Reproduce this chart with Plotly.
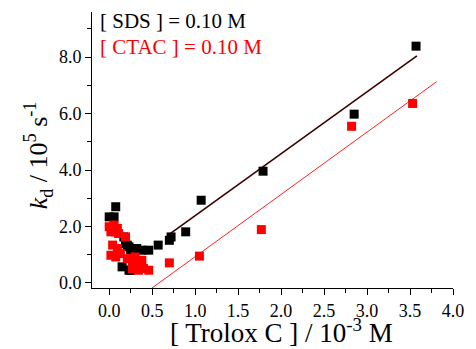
import plotly.graph_objects as go

# SDS series (black)
sds_x = [0.00, 0.057, 0.076, 0.17, 0.19, 0.21, 0.23, 0.25, 0.32, 0.38, 0.46,
         0.15, 0.23, 0.25, 0.57, 0.70, 0.72, 0.89, 1.07, 1.79, 2.85, 3.57]
sds_y = [2.34, 2.34, 2.70, 1.63, 1.40, 1.34, 1.28, 1.16, 1.22, 1.16, 1.16,
         0.57, 0.45, 0.45, 1.34, 1.51, 1.63, 1.81, 2.93, 3.96, 5.98, 8.39]

# CTAC series (red)
ctac_x = [0.00, 0.057, 0.095, 0.02, 0.076, 0.11, 0.19, 0.04, 0.095, 0.02, 0.076,
          0.13, 0.21, 0.27, 0.30, 0.36, 0.27, 0.34, 0.36, 0.38, 0.40, 0.46,
          0.70, 1.05, 1.77, 2.82, 3.53]
ctac_y = [1.99, 2.05, 1.93, 1.81, 1.81, 1.75, 1.63, 1.34, 1.22, 0.98, 0.92,
          1.04, 0.86, 0.74, 0.92, 0.80, 0.51, 0.45, 0.69, 0.80, 0.51, 0.45,
          0.71, 0.95, 1.89, 5.55, 6.36]

# linear fits (slope, intercept, x-extent)
sds_fit = {"slope": 2.195, "intercept": 0.19, "x": [0.71, 3.58]}
ctac_fit = {"slope": 2.208, "intercept": -1.28, "x": [0.49, 3.81]}

x_ticks = [0.0, 0.5, 1.0, 1.5, 2.0, 2.5, 3.0, 3.5, 4.0]
y_ticks = [0.0, 2.0, 4.0, 6.0, 8.0]

FONT = "Liberation Serif"

W, H = 476, 349
ML, MR, MT, MB = 92, 14, 12, 61
PW, PH = W - ML - MR, H - MT - MB


def px(xp):
    return (xp - ML) / PW


def py(yp):
    return (H - MB - yp) / PH


def fit_line(fit):
    xs = fit["x"]
    return xs, [fit["slope"] * v + fit["intercept"] for v in xs]


fig = go.Figure()
lx, ly = fit_line(sds_fit)
fig.add_trace(go.Scatter(x=lx, y=ly, mode="lines",
                         line=dict(color="#3a0000", width=1.6), showlegend=False))
lx, ly = fit_line(ctac_fit)
fig.add_trace(go.Scatter(x=lx, y=ly, mode="lines",
                         line=dict(color="#ff2020", width=1), showlegend=False))
fig.add_trace(go.Scatter(x=sds_x, y=sds_y, mode="markers",
                         marker=dict(symbol="square", size=9, color="black",
                                     line=dict(width=0)), showlegend=False))
fig.add_trace(go.Scatter(x=ctac_x, y=ctac_y, mode="markers",
                         marker=dict(symbol="square", size=9, color="#ff0000",
                                     line=dict(width=0)), showlegend=False))

fig.update_layout(
    width=W, height=H, autosize=False,
    margin=dict(l=ML, r=MR, t=MT, b=MB),
    paper_bgcolor="white", plot_bgcolor="white",
    font=dict(family=FONT, color="black", size=18),
    xaxis=dict(range=[-0.2, 4.0], tickvals=x_ticks,
               ticktext=[f"{v:.1f}" for v in x_ticks],
               showline=True, linecolor="black", linewidth=1, mirror=False,
               ticks="outside", ticklen=6, tickwidth=1, tickcolor="black",
               minor=dict(dtick=0.25, ticks="outside", ticklen=4, tickcolor="black"),
               showgrid=False, zeroline=False,
               tickfont=dict(family=FONT, size=18)),
    yaxis=dict(range=[-0.18, 9.6], tickvals=y_ticks,
               ticktext=[f"{v:.1f}" for v in y_ticks],
               showline=True, linecolor="black", linewidth=1, mirror=False,
               ticks="outside", ticklen=6, tickwidth=1, tickcolor="black",
               minor=dict(dtick=1, ticks="outside", ticklen=4, tickcolor="black"),
               showgrid=False, zeroline=False,
               tickfont=dict(family=FONT, size=18)),
    annotations=[
        dict(text="[ SDS ] = 0.10 M", x=px(98), y=py(21), xref="paper", yref="paper",
             showarrow=False, xanchor="left", yanchor="middle",
             font=dict(family=FONT, size=21, color="black")),
        dict(text="[ CTAC ] = 0.10 M", x=px(98), y=py(47), xref="paper", yref="paper",
             showarrow=False, xanchor="left", yanchor="middle",
             font=dict(family=FONT, size=21, color="#ff0000")),
        dict(text="[ Trolox C ] / 10<sup>-3</sup> M", x=px(286), y=py(331),
             xref="paper", yref="paper", showarrow=False,
             xanchor="center", yanchor="middle",
             font=dict(family=FONT, size=27, color="black")),
        dict(text="<i>k</i><sub>d</sub> / 10<sup>5</sup> s<sup>-1</sup>",
             x=px(37), y=py(155), xref="paper", yref="paper", showarrow=False,
             textangle=-90, xanchor="center", yanchor="middle",
             font=dict(family=FONT, size=26, color="black")),
    ],
)

fig.write_html("out.html", config={"displayModeBar": False, "staticPlot": True},
               post_script="document.body.style.margin='0';document.body.style.overflow='hidden';")
